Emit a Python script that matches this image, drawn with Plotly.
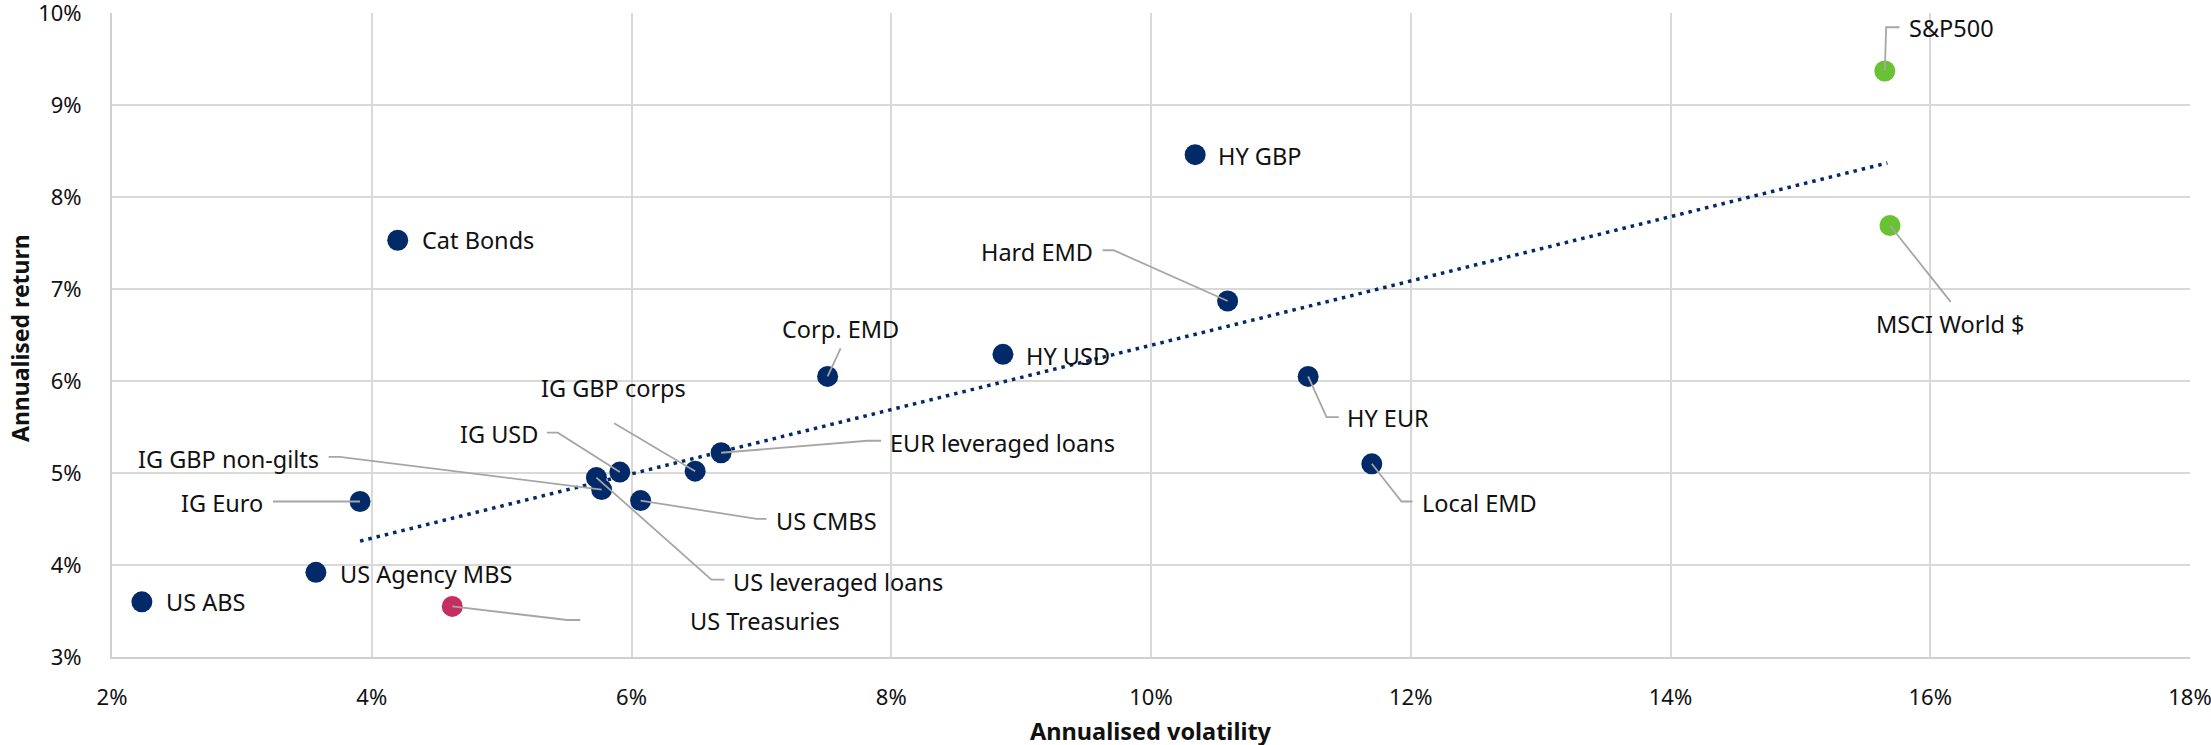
import plotly.graph_objects as go

# ---------------- data ----------------
names = ["US ABS", "US Agency MBS", "US Treasuries", "IG Euro", "Cat Bonds",
         "US leveraged loans", "IG GBP non-gilts", "IG USD", "US CMBS", "IG GBP corps",
         "EUR leveraged loans", "Corp. EMD", "HY USD", "HY GBP", "Hard EMD",
         "HY EUR", "Local EMD", "S&P500", "MSCI World $"]
volatility = [2.23, 3.57, 4.62, 3.91, 4.20,
              5.73, 5.77, 5.91, 6.07, 6.49,
              6.69, 7.51, 8.86, 10.34, 10.59,
              11.21, 11.70, 15.65, 15.69]
returns = [3.60, 3.92, 3.55, 4.69, 7.53,
           4.95, 4.82, 5.01, 4.70, 5.02,
           5.22, 6.05, 6.29, 8.46, 6.87,
           6.05, 5.10, 9.37, 7.69]
groups = ["credit", "credit", "govt", "credit", "credit",
          "credit", "credit", "credit", "credit", "credit",
          "credit", "credit", "credit", "credit", "credit",
          "credit", "credit", "equity", "equity"]
trend_x = [3.91, 15.67]
trend_y = [4.26, 8.37]
x_ticks = [2, 4, 6, 8, 10, 12, 14, 16, 18]
x_tick_labels = ["2%", "4%", "6%", "8%", "10%", "12%", "14%", "16%", "18%"]
y_ticks = [3, 4, 5, 6, 7, 8, 9, 10]
y_tick_labels = ["3%", "4%", "5%", "6%", "7%", "8%", "9%", "10%"]

# ---------------- style ----------------
W, H = 2211, 745
ML, MR, MT, MB = 112, 21, 13, 88
PW, PH = W - ML - MR, H - MT - MB
XR, YR = [2, 18], [3, 10]
PXX = PW / (XR[1] - XR[0])
PXY = PH / (YR[1] - YR[0])

COL = {"credit": "#032a68", "govt": "#c62d60", "equity": "#69c232"}
FONT = "Noto Sans, Open Sans, sans-serif"
LBL_SIZE = 23.5
TICK_SIZE = 22
LEADER = "#a6a6a6"

# label placement: anchor, dx, dy (pixels, y down), leader polyline (pixels)
label_style = {
    "US ABS": ("left", 24, 0, None),
    "US Agency MBS": ("left", 24, 2, None),
    "US Treasuries": ("left", 238, 15, [(0, 0), (115, 13.6), (128, 13.6)]),
    "IG Euro": ("right", -97, 1.5, [(0, 0), (-87, 0)]),
    "Cat Bonds": ("left", 24, 0, None),
    "US leveraged loans": ("left", 137, 104, [(0, 0), (115, 102), (128, 102)]),
    "IG GBP non-gilts": ("right", -283, -31, [(0, 0), (-262, -32.6), (-273, -32.6)]),
    "IG USD": ("right", -82, -38, [(0, 0), (-62, -39.4), (-73, -39.4)]),
    "US CMBS": ("left", 135, 20, [(0, 0), (116, 18.3), (126, 18.3)]),
    "IG GBP corps": ("center", -82, -83, [(0, 0), (-81, -48)]),
    "EUR leveraged loans": ("left", 169, -9.5, [(0, 0), (146.5, -12), (160, -12)]),
    "Corp. EMD": ("center", 13, -47, [(0, 0), (13, -28)]),
    "HY USD": ("left", 23, 1.5, None),
    "HY GBP": ("left", 23, 1, None),
    "Hard EMD": ("right", -135, -49, [(0, 0), (-114, -50.7), (-125, -50.7)]),
    "HY EUR": ("left", 39, 42, [(0, 0), (18.4, 40.7), (30.6, 40.7)]),
    "Local EMD": ("left", 50, 39.5, [(0, 0), (29.7, 37.7), (40.7, 37.7)]),
    "S&P500": ("left", 24, -43, [(0, 0), (1.4, -43.7), (14.7, -43.7)]),
    "MSCI World $": ("center", 61, 98, [(0, 0), (60.7, 76.4)]),
}

fig = go.Figure()

# trend line
fig.add_trace(go.Scatter(
    x=trend_x, y=trend_y, mode="lines",
    line=dict(color="#032a68", width=3.5, dash="3.5px,5px"),
    hoverinfo="skip", showlegend=False))

# points
for grp in ["credit", "govt", "equity"]:
    idx = [i for i, g in enumerate(groups) if g == grp]
    fig.add_trace(go.Scatter(
        x=[volatility[i] for i in idx], y=[returns[i] for i in idx],
        mode="markers", text=[names[i] for i in idx],
        marker=dict(size=21, color=COL[grp], line=dict(width=0)),
        showlegend=False, cliponaxis=False))

# leader lines
for i, n in enumerate(names):
    anchor, dx, dy, pts = label_style[n]
    if pts:
        fig.add_trace(go.Scatter(
            x=[volatility[i] + px / PXX for px, py in pts],
            y=[returns[i] - py / PXY for px, py in pts],
            mode="lines", line=dict(color=LEADER, width=1.8),
            hoverinfo="skip", showlegend=False, cliponaxis=False))

# labels
annotations = []
for i, n in enumerate(names):
    anchor, dx, dy, pts = label_style[n]
    annotations.append(dict(
        x=volatility[i], y=returns[i], xref="x", yref="y",
        text=n, showarrow=False, xanchor=anchor, yanchor="middle",
        xshift=dx, yshift=-dy, borderpad=0, borderwidth=0,
        font=dict(family=FONT, size=LBL_SIZE, color="#111111")))

# axis titles
annotations.append(dict(
    x=0.5, y=-(731 - (MT + PH)) / PH, xref="paper", yref="paper",
    text="<b>Annualised volatility</b>", showarrow=False,
    xanchor="center", yanchor="middle",
    font=dict(family=FONT, size=23.5, color="#111111")))
annotations.append(dict(
    x=-(ML - 20) / PW, y=(MT + PH - 338) / PH, xref="paper", yref="paper",
    text="<b>Annualised return</b>", showarrow=False, textangle=-90,
    xanchor="center", yanchor="middle",
    font=dict(family=FONT, size=23, color="#111111")))

axis_common = dict(
    showgrid=True, gridcolor="#d9d9d9", gridwidth=1.6,
    showline=True, linecolor="#d0d0d0", linewidth=2,
    zeroline=False, ticks="", automargin=False, ticklabeloverflow="allow",
    tickfont=dict(family=FONT, size=TICK_SIZE, color="#111111"),
)

fig.update_layout(
    width=W, height=H,
    margin=dict(l=ML, r=MR, t=MT, b=MB, autoexpand=False),
    paper_bgcolor="white", plot_bgcolor="white",
    xaxis=dict(range=XR, tickmode="array", tickvals=x_ticks, ticktext=x_tick_labels,
               ticklabelstandoff=20, **axis_common),
    yaxis=dict(range=YR, tickmode="array", tickvals=y_ticks, ticktext=y_tick_labels,
               ticklabelstandoff=24, **axis_common),
    annotations=annotations,
    font=dict(family=FONT),
)

fig.write_html(
    "out.html",
    config={"displayModeBar": False},
    post_script="document.body.style.margin='0';document.body.style.overflow='hidden';",
)
